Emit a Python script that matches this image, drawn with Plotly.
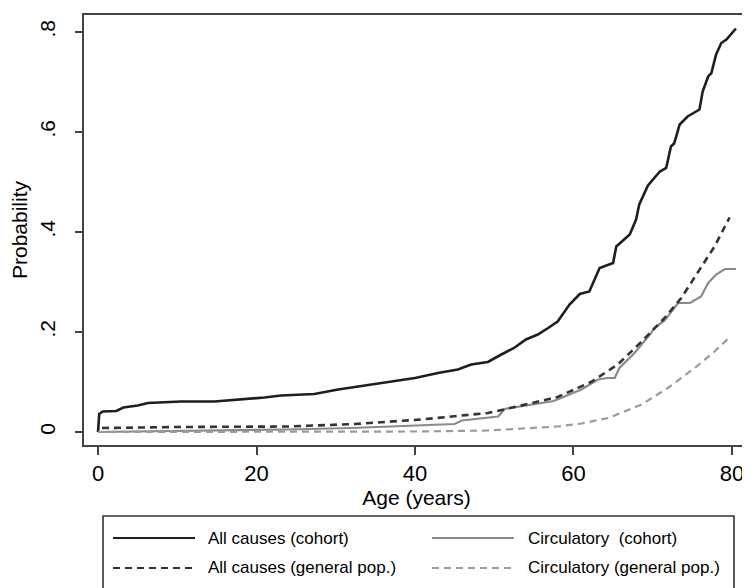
import plotly.graph_objects as go

# ---- data ----
age_all_cohort = [0, 0.15, 0.6, 2.3, 3.2, 5.0, 6.3, 10.5, 14.7, 18.9, 21.0, 23.1, 25.2, 27.3,
                  30.3, 33.7, 36.6, 40.0, 42.9, 45.4, 47.1, 49.2, 50.9, 52.5, 54.0, 55.5, 56.8,
                  58.0, 59.5, 60.8, 62.0, 63.3, 65.0, 65.4, 67.1, 67.9, 68.3, 69.4, 70.9, 71.7,
                  72.3, 72.7, 73.4, 74.4, 75.9, 76.3, 77.0, 77.4, 78.0, 78.65, 79.3, 80.5]
p_all_cohort = [0, 0.036, 0.041, 0.042, 0.049, 0.053, 0.058, 0.061, 0.061, 0.066, 0.069, 0.073,
                0.074, 0.076, 0.085, 0.093, 0.101, 0.108, 0.118, 0.125, 0.135, 0.140, 0.155,
                0.168, 0.185, 0.195, 0.208, 0.221, 0.255, 0.276, 0.281, 0.328, 0.338, 0.371,
                0.395, 0.425, 0.455, 0.493, 0.521, 0.528, 0.571, 0.577, 0.615, 0.631, 0.645,
                0.681, 0.711, 0.718, 0.755, 0.778, 0.785, 0.807]

age_circ_cohort = [0, 10, 24, 32, 45, 45.9, 50.5, 51.3, 55, 57.5, 61, 63.1, 64.3, 65.2, 65.8,
                   67.7, 69.8, 70.2, 71.5, 73.2, 74.7, 76.1, 77, 78, 79.1, 80.5]
p_circ_cohort = [0, 0.002, 0.005, 0.008, 0.016, 0.023, 0.031, 0.046, 0.055, 0.062, 0.085, 0.105,
                 0.108, 0.108, 0.128, 0.158, 0.198, 0.208, 0.223, 0.258, 0.258, 0.271, 0.298,
                 0.315, 0.326, 0.326]

age_all_gen = [0.5, 10, 24, 32.4, 40.8, 45, 49.2, 51.5, 55.5, 58, 62.2, 65.6, 68.6, 71.5, 73.6,
               76.1, 77.8, 79.7]
p_all_gen = [0.008, 0.010, 0.011, 0.016, 0.025, 0.031, 0.038, 0.046, 0.060, 0.070, 0.100, 0.135,
             0.181, 0.228, 0.268, 0.328, 0.371, 0.429]

age_circ_gen = [0, 24, 40, 49.2, 51.7, 55.5, 58, 61, 64.4, 68.6, 71.9, 75.3, 77.8, 79.6]
p_circ_gen = [0.0, 0.0, 0.001, 0.003, 0.005, 0.008, 0.011, 0.017, 0.028, 0.055, 0.088, 0.128,
              0.161, 0.188]

series_names = ["All causes (cohort)", "Circulatory  (cohort)",
                "All causes (general pop.)", "Circulatory (general pop.)"]

x_ticks = [0, 20, 40, 60, 80]
y_ticks = [0, 0.2, 0.4, 0.6, 0.8]
y_tick_labels = ["0", ".2", ".4", ".6", ".8"]

FONT = "Liberation Sans, Arial, Helvetica, sans-serif"

styles = [
    dict(color="#1e1e1e", width=2.6, dash="solid"),
    dict(color="#8a8a8a", width=2.2, dash="solid"),
    dict(color="#333333", width=2.6, dash="7px,5px"),
    dict(color="#9a9a9a", width=2.2, dash="7px,5px"),
]
xs = [age_all_cohort, age_circ_cohort, age_all_gen, age_circ_gen]
ys = [p_all_cohort, p_circ_cohort, p_all_gen, p_circ_gen]

fig = go.Figure()
for x, y, name, st in zip(xs, ys, series_names, styles):
    fig.add_trace(go.Scatter(x=x, y=y, mode="lines", name=name, line=st, showlegend=False))

# ---- legend box drawn below the plot (paper coordinates) ----
shapes = [dict(type="rect", xref="paper", yref="paper", x0=0.0286, x1=0.9774,
               y0=-0.337, y1=-0.165, line=dict(color="#333333", width=1.6),
               fillcolor="white", layer="above")]
annotations = []
row_y = [-0.2163, -0.2860]
col_line = [(0.0436, 0.1669), (0.5233, 0.6466)]
col_text = [0.184, 0.665]
for i, (name, st) in enumerate(zip(series_names, styles)):
    r, c = i // 2, i % 2
    shapes.append(dict(type="line", xref="paper", yref="paper",
                       x0=col_line[c][0], x1=col_line[c][1], y0=row_y[r], y1=row_y[r],
                       line=dict(color=st["color"], width=st["width"] - 0.4, dash=st["dash"])))
    annotations.append(dict(xref="paper", yref="paper", x=col_text[c], y=row_y[r],
                            xanchor="left", yanchor="middle", showarrow=False, text=name,
                            font=dict(size=17, family=FONT, color="#000000")))

fig.update_layout(
    width=750, height=588,
    margin=dict(l=76, r=9, t=7, b=151, autoexpand=False),
    paper_bgcolor="white", plot_bgcolor="white",
    font=dict(family=FONT, color="#000000"),
    showlegend=False,
    shapes=shapes, annotations=annotations,
)
fig.update_xaxes(range=[-1.77, 82.15], tickvals=x_ticks, ticks="outside", ticklen=8,
                 tickwidth=1.5, tickcolor="#444", showgrid=False, zeroline=False,
                 showline=True, linecolor="#444", linewidth=2, mirror=True, automargin=False,
                 tickfont=dict(size=22), title=dict(text="Age (years)", font=dict(size=21),
                                                     standoff=5))
fig.update_yaxes(range=[-0.026, 0.834], tickvals=y_ticks, ticktext=y_tick_labels,
                 ticks="outside", ticklen=7, tickwidth=1.5, tickcolor="#444", tickangle=-90,
                 ticklabelstandoff=12, automargin=False,
                 showgrid=False, zeroline=False, showline=True, linecolor="#444",
                 linewidth=2, mirror=True, tickfont=dict(size=21),
                 title=dict(text="Probability", font=dict(size=21), standoff=6))

fig.write_html("out.html")
